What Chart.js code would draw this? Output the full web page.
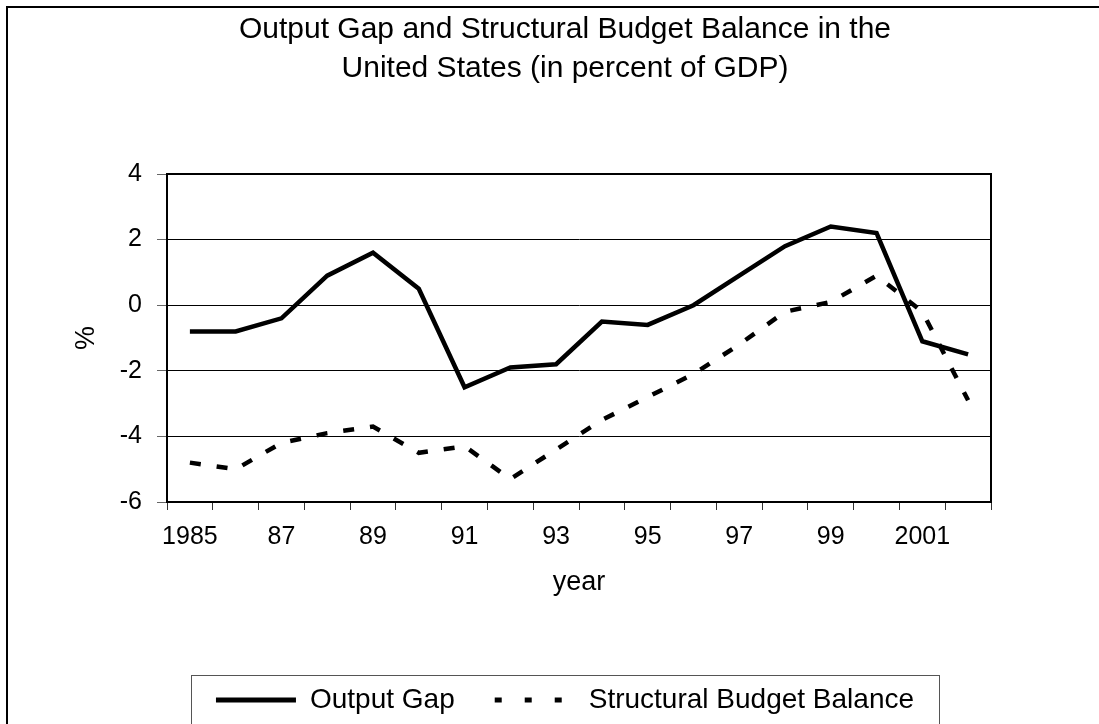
<!DOCTYPE html>
<html>
<head>
<meta charset="utf-8">
<script src="https://cdn.jsdelivr.net/npm/chart.js@4.4.1/dist/chart.umd.min.js"></script>
<style>
  html, body { margin: 0; padding: 0; background: #fff; }
  #wrap { width: 1099px; height: 724px; }
</style>
</head>
<body>
<div id="wrap"><canvas id="gap-chart" width="1099" height="724"></canvas></div>
<script>
const years = [1985, 1986, 1987, 1988, 1989, 1990, 1991, 1992, 1993, 1994, 1995, 1996, 1997, 1998, 1999, 2000, 2001, 2002];
const tickLabels = ["1985", "", "87", "", "89", "", "91", "", "93", "", "95", "", "97", "", "99", "", "2001", ""];
const outputGap = [-0.8, -0.8, -0.4, 0.9, 1.6, 0.5, -2.5, -1.9, -1.8, -0.5, -0.6, 0.0, 0.9, 1.8, 2.4, 2.2, -1.1, -1.5];
const structuralBalance = [-4.8, -5.0, -4.2, -3.9, -3.7, -4.5, -4.3, -5.3, -4.4, -3.5, -2.8, -2.1, -1.2, -0.2, 0.1, 0.9, -0.2, -2.9];

const FONT = "'Liberation Sans', Arial, sans-serif";
Chart.defaults.font.family = FONT;
Chart.defaults.color = "#000";

// page frame (top + left edge), plot box and legend box
const framePlugin = {
    id: "frames",
    beforeDraw(chart) {
        const ctx = chart.ctx;
        ctx.save();
        ctx.fillStyle = "#fff";
        ctx.fillRect(0, 0, chart.width, chart.height);
        ctx.strokeStyle = "#000";
        ctx.lineWidth = 2;
        ctx.beginPath();
        ctx.moveTo(7, chart.height);
        ctx.lineTo(7, 7);
        ctx.lineTo(chart.width, 7);
        ctx.stroke();
        ctx.restore();
    },
    afterDraw(chart) {
        const ctx = chart.ctx;
        const a = chart.chartArea;
        ctx.save();
        ctx.strokeStyle = "#000";
        ctx.lineWidth = 2;
        ctx.strokeRect(a.left, a.top, a.right - a.left, a.bottom - a.top);

        const boxes = chart.legend.legendHitBoxes;
        if (boxes && boxes.length) {
            const left = Math.min(...boxes.map(b => b.left)) - 25;
            const right = Math.max(...boxes.map(b => b.left + b.width)) + 25;
            const mid = boxes[0].top + boxes[0].height / 2;
            ctx.strokeStyle = "#555";
            ctx.lineWidth = 1;
            ctx.strokeRect(Math.round(left) + 0.5, Math.round(mid - 25) + 0.5, Math.round(right - left), 49);
        }
        ctx.restore();
    }
};

const data = {
    labels: years,
    datasets: [{
        label: "Output Gap",
        data: outputGap,
        borderColor: "#000",
        backgroundColor: "#000",
        borderWidth: 4.5,
        pointRadius: 0,
        tension: 0,
        yAxisID: "y"
    }, {
        label: "Structural Budget Balance",
        data: structuralBalance,
        borderColor: "#000",
        backgroundColor: "#000",
        borderWidth: 4.5,
        borderDash: [11, 16],
        pointRadius: 0,
        tension: 0,
        yAxisID: "y"
    }]
};

const config = {
    type: "line",
    data: data,
    options: {
        responsive: false,
        animation: false,
        layout: { padding: { left: 31, right: 0, top: 0, bottom: 0 } },
        plugins: {
            title: {
                display: true,
                text: ["Output Gap and Structural Budget Balance in the", "United States (in percent of GDP)"],
                font: { size: 30, weight: "normal", lineHeight: 1.3 },
                color: "#000",
                padding: { top: 10, bottom: 86 }
            },
            legend: {
                position: "bottom",
                labels: {
                    font: { size: 28 },
                    color: "#000",
                    usePointStyle: true,
                    pointStyle: "line",
                    pointStyleWidth: 80,
                    padding: 40,
                    generateLabels(chart) {
                        const items = Chart.defaults.plugins.legend.labels.generateLabels(chart);
                        items.forEach((it, i) => {
                            it.lineWidth = 5;
                            it.lineDash = i === 1 ? [7, 23] : [];
                            it.lineDashOffset = 0;
                        });
                        return items;
                    }
                }
            },
            tooltip: { enabled: false }
        },
        scales: {
            x: {
                type: "category",
                offset: true,
                grid: {
                    display: true,
                    offset: true,
                    drawOnChartArea: false,
                    drawTicks: true,
                    tickLength: 8,
                    tickColor: "#333",
                    lineWidth: 1
                },
                border: { display: true, color: "#000", width: 2 },
                ticks: {
                    autoSkip: false,
                    maxRotation: 0,
                    font: { size: 25 },
                    color: "#000",
                    padding: 12,
                    callback: (value, index) => tickLabels[index]
                },
                title: {
                    display: true,
                    text: "year",
                    font: { size: 27 },
                    color: "#000",
                    padding: { top: 0, bottom: 47 }
                },
                afterFit(scale) { scale.height = 144; }
            },
            y: {
                min: -6,
                max: 4,
                ticks: { stepSize: 2, font: { size: 25 }, color: "#000", padding: 15 },
                grid: {
                    color: "#000",
                    lineWidth: 1,
                    tickLength: 10,
                    tickColor: "#666"
                },
                border: { display: true, color: "#000", width: 2 },
                title: {
                    display: true,
                    text: "%",
                    font: { size: 27 },
                    color: "#000",
                    padding: { top: 39, bottom: 0 }
                },
                afterFit(scale) { scale.width = 136; }
            },
            yR: {
                position: "right",
                display: true,
                grid: { display: false, drawTicks: false },
                border: { display: false },
                ticks: { display: false },
                afterFit(scale) { scale.width = 108; }
            }
        }
    },
    plugins: [framePlugin]
};

const gapChart = new Chart(document.getElementById("gap-chart"), config);
</script>
</body>
</html>
